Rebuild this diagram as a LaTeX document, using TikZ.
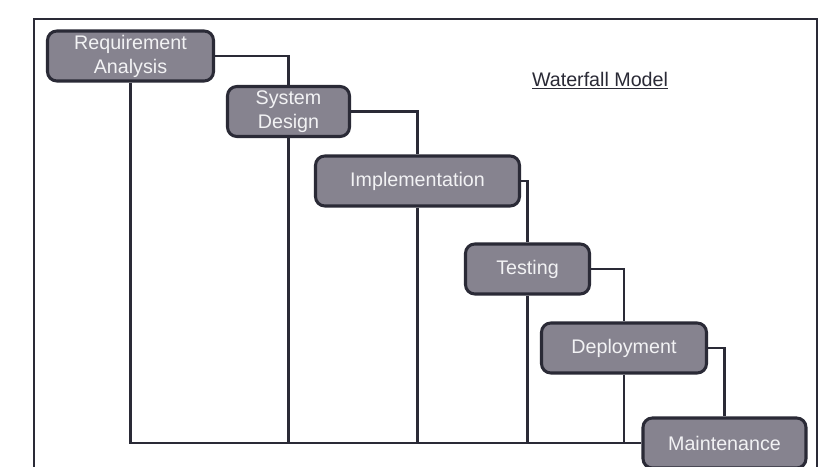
\documentclass[tikz,border=0pt]{standalone}
\usepackage{fontspec}
\setmainfont{Liberation Sans}
\definecolor{phasefill}{HTML}{86838F}
\definecolor{phaseline}{HTML}{2A2A36}
\definecolor{phasetext}{HTML}{F2F2F4}
\newlength{\mylen}
\setlength{\mylen}{0.03cm}

\tikzset{
  phase/.style={draw=phaseline, line width=2.6pt, fill=phasefill, rounded corners=8pt,
    text=phasetext, align=center, inner sep=0pt, minimum height=50\mylen,
    font=\fontsize{16.8}{20.4}\selectfont},
  flow/.style={draw=phaseline, line width=2.1pt}
}

\begin{document}
\begin{tikzpicture}[x=0.03cm,y=-0.03cm]
\clip (0,0) rectangle (839,466);
\fill[white] (0,0) rectangle (839,466);
\draw[phaseline, line width=2pt] (34,19) rectangle (817,500);
\node[font=\fontsize{16.8}{20.4}\selectfont, text=phaseline] (title) at (600,81) {\underline{Waterfall Model}};
% the phases
\node[phase, minimum width=166\mylen] (req) at (130.5,56) {Requirement\\Analysis};
\node[phase, minimum width=122\mylen] (design) at (288.5,111.5) {System\\Design};
\node[phase, minimum width=204\mylen] (impl) at (417.5,181) {Implementation};
\node[phase, minimum width=124\mylen] (test) at (527.5,269) {Testing};
\node[phase, minimum width=165\mylen] (deploy) at (624,348) {Deployment};
\coordinate (base) at (0,443);
% steps down the fall
\draw[flow] (req.east) -| (design.north);
\draw[flow] (design.east) -| (impl.north);
\draw[flow] (impl.east) -| (test.north);
\draw[flow] (test.east) -| (deploy.north);
% lines back to the base line
\foreach \p in {design,impl,test,deploy}
  \draw[flow] (\p.south) -- (\p.south |- base);
\node[phase, minimum width=163\mylen] (maint) at (724.5,443) {Maintenance};
\draw[flow] (deploy.east) -| (maint.north);
\draw[flow] (req.south) |- (maint.west);
\end{tikzpicture}
\end{document}
